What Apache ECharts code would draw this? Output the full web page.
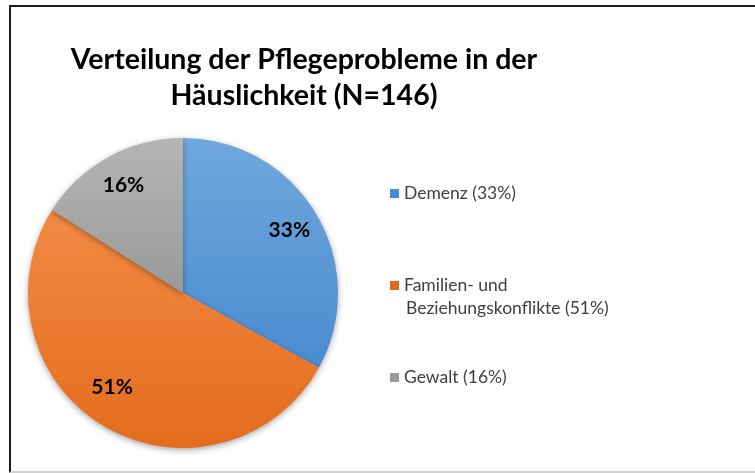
<!DOCTYPE html>
<html>
<head>
<meta charset="utf-8">
<script src="https://cdn.jsdelivr.net/npm/echarts@6/dist/echarts.min.js"></script>
<style>
  html, body { margin: 0; padding: 0; background: #fff; }
  #frame {
    position: absolute; left: 9px; top: 5px; width: 760px; height: 464px;
    border-left: 2px solid #1a1a1a; border-top: 2px solid #1a1a1a;
    border-bottom: 2px solid #d0d0d0;
  }
  #chart { position: absolute; left: 0; top: 0; width: 755px; height: 473px; }
</style>
</head>
<body>
<div id="frame"></div>
<div id="chart"></div>
<script>
// data
const categories = ['Demenz', 'Familien- und Beziehungskonflikte', 'Gewalt'];
const legendNames = ['Demenz (33%)', 'Familien- und\nBeziehungskonflikte (51%)', 'Gewalt (16%)'];
const values = [33, 51, 16];
const topColors = ['#6fa8dc', '#f38a45', '#b5b5b5'];
const bottomColors = ['#4a8bd0', '#e36c1c', '#999999'];

let chart = echarts.init(document.getElementById('chart'));

function grad(i) {
  return {
    type: 'linear', x: 0, y: 0, x2: 0, y2: 1,
    colorStops: [{offset: 0, color: topColors[i]}, {offset: 1, color: bottomColors[i]}]
  };
}

let pieData = values.map((v, i) => ({
  name: legendNames[i],
  value: v,
  itemStyle: {color: grad(i)}
}));

let labelData = values.map((v, i) => ({
  name: legendNames[i],
  value: v,
  itemStyle: {color: 'rgba(0,0,0,0)'}
}));

let font = 'Lato, "Open Sans", sans-serif';
let legendText = {fontFamily: font, fontSize: 17.5, color: '#404040', lineHeight: 23};

// Excel puts the marker on the first line of a wrapped entry,
// so the legend shows the first line and the rest goes below as plain text
let legends = legendNames.map((n, i) => ({
  data: [{name: n, itemStyle: {color: bottomColors[i]}}],
  formatter: name => name.split('\n')[0],
  left: 385,
  top: [177, 269, 361][i],
  icon: 'rect',
  itemWidth: 9,
  itemHeight: 9,
  itemGap: 5,
  selectedMode: false,
  textStyle: legendText
}));

let titles = [{
  text: 'Verteilung der Pflegeprobleme in der\nHäuslichkeit (N=146)',
  left: 299,
  top: 37,
  textAlign: 'center',
  textStyle: {fontFamily: font, fontSize: 28.5, fontWeight: 'bold', color: '#000', lineHeight: 36}
}];
legendNames.forEach((n, i) => {
  let rest = n.split('\n').slice(1);
  if (rest.length)
    titles.push({
      text: rest.join('\n'),
      left: 401,
      top: [177, 269, 361][i] + 23,
      textStyle: Object.assign({fontWeight: 'normal'}, legendText)
    });
});

let option = {
  animation: false,
  title: titles,
  legend: legends,
  series: [
    {
      type: 'pie',
      center: [183, 293],
      radius: [0, 155],
      startAngle: 90,
      clockwise: true,
      label: {show: false},
      labelLine: {show: false},
      itemStyle: {shadowBlur: 6, shadowColor: 'rgba(0,0,0,0.35)', shadowOffsetY: 2},
      silent: true,
      data: pieData
    },
    {
      type: 'pie',
      center: [183, 293],
      radius: [86, 155],
      startAngle: 90,
      clockwise: true,
      silent: true,
      legendHoverLink: false,
      label: {
        show: true,
        position: 'inside',
        formatter: p => p.value + '%',
        fontFamily: font,
        fontSize: 21,
        fontWeight: 'bold',
        color: '#000'
      },
      labelLine: {show: false},
      labelLayout: p => p.dataIndex === 1 ? {dx: -8, dy: -12} : {},
      data: labelData
    }
  ]
};

chart.setOption(option);
</script>
</body>
</html>
